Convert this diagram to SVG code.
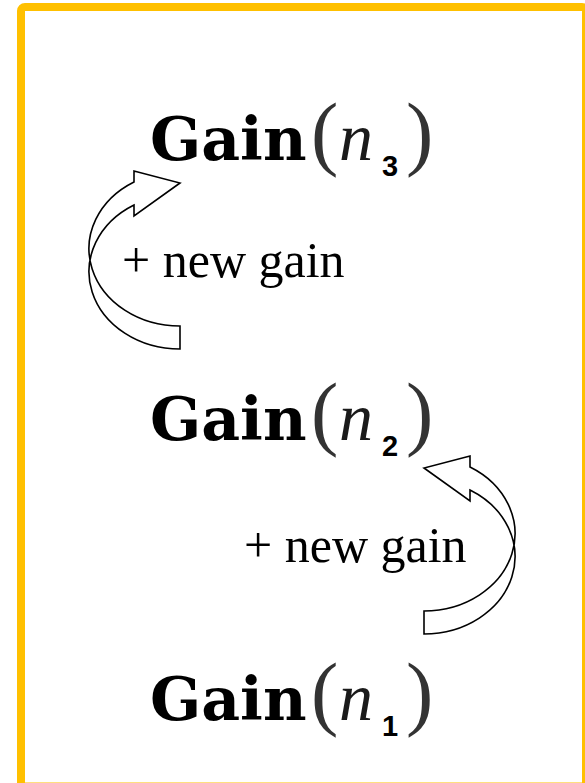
<svg xmlns="http://www.w3.org/2000/svg" width="585" height="783" viewBox="0 0 585 783">
<style>
.gain{font-family:"DejaVu Serif","Liberation Serif",serif;font-weight:bold;font-size:60px;fill:#000}
.par{font-family:"Liberation Serif",serif;font-size:82px;fill:#333}
.nv{font-family:"Liberation Serif",serif;font-style:italic;font-size:68px;fill:#1a1a1a}
.sub{font-family:"Liberation Sans",Arial,sans-serif;font-weight:bold;font-size:29px;fill:#000}
.lbl{font-family:"Liberation Serif",serif;font-size:50px;fill:#000}
.arr{fill:#fff;stroke:#000;stroke-width:1.6;stroke-linejoin:miter}
</style>
<defs>
<path id="carrow" d="M134,182 L134,171 L180,183 L134,216 L134,205 A91,77.3 0 0 0 180,349 L180,326 A91,77.3 0 0 1 134,182 Z"/>
</defs>
<rect x="0" y="0" width="585" height="783" fill="#fff"/>
<rect x="21" y="7" width="565" height="779.5" rx="4" fill="#fff" stroke="#FFC000" stroke-width="8"/>
<g id="connectors">
<use href="#carrow" class="arr"/>
<use href="#carrow" class="arr" transform="translate(604,285) scale(-1,1)"/>
</g>
<g id="gain3">
<text class="gain" x="150" y="160">Gain</text>
<text class="par" x="311" y="160">(</text>
<text class="nv" x="339" y="160">n</text>
<text class="sub" x="382" y="176">3</text>
<text class="par" x="406" y="160">)</text>
</g>
<g id="label1"><text class="lbl" x="122" y="277">+ new gain</text></g>
<g id="gain2">
<text class="gain" x="150" y="440">Gain</text>
<text class="par" x="311" y="440">(</text>
<text class="nv" x="339" y="440">n</text>
<text class="sub" x="382" y="456">2</text>
<text class="par" x="406" y="440">)</text>
</g>
<g id="label2"><text class="lbl" x="244" y="562">+ new gain</text></g>
<g id="gain1">
<text class="gain" x="150" y="720">Gain</text>
<text class="par" x="311" y="720">(</text>
<text class="nv" x="339" y="720">n</text>
<text class="sub" x="382" y="736">1</text>
<text class="par" x="406" y="720">)</text>
</g>
</svg>
